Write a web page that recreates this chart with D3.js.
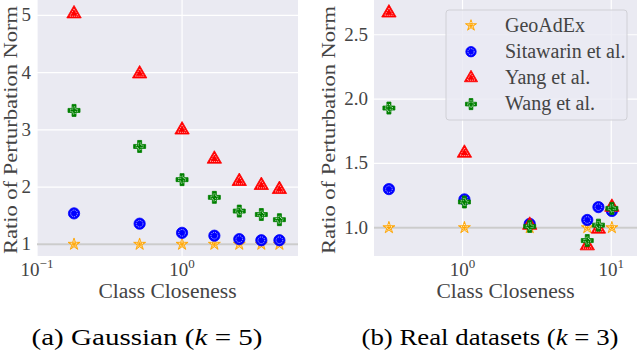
<!DOCTYPE html>
<html>
<head>
<meta charset="utf-8">
<script src="https://cdn.jsdelivr.net/npm/d3@7"></script>
<style>
  body { margin: 0; background: #fff; }
</style>
</head>
<body>
<div id="chart"></div>
<script>
// ---- data ----
var seriesNames = ['GeoAdEx', 'Sitawarin et al.', 'Yang et al.', 'Wang et al.'];
var seriesColors = ['#ffa500', '#0000ff', '#ff0000', '#008000'];
var seriesShapes = [d3.symbolStar, d3.symbolCircle, d3.symbolTriangle, d3.symbolCross];

// (a) Gaussian, k = 5
var gaussX = [0.18, 0.51, 1.0, 1.67, 2.48, 3.52, 4.69];
var gaussGeo = [1.0, 1.0, 1.0, 1.0, 1.0, 1.0, 1.0];
var gaussSita = [1.54, 1.36, 1.20, 1.15, 1.09, 1.07, 1.07];
var gaussYang = [5.03, 3.98, 3.0, 2.49, 2.10, 2.03, 1.96];
var gaussWang = [3.34, 2.71, 2.13, 1.82, 1.58, 1.52, 1.43];

// (b) Real datasets, k = 3
var realX = [0.32, 1.03, 2.83, 6.9, 8.2, 10.1];
var realGeo = [1.0, 1.0, 1.0, 1.0, 1.0, 1.0];
var realSita = [1.30, 1.22, 1.03, 1.06, 1.16, 1.13];
var realYang = [2.67, 1.58, 1.02, 0.86, 0.99, 1.16];
var realWang = [1.93, 1.20, 1.01, 0.90, 1.02, 1.15];

var gaussYTicks = [1, 2, 3, 4, 5];
var gaussXTicks = [0.1, 1];
var realYTicks = [1.0, 1.5, 2.0, 2.5];
var realXTicks = [1, 10];

var svg = d3.select('#chart').append('svg')
    .attr('width', 638)
    .attr('height', 352);

var symSizes = [45, 100, 90, 80];

function drawPanel(opt) {
    var x = d3.scaleLog().domain(opt.xDomain).range([opt.left, opt.right]);
    var y = d3.scaleLinear().domain(opt.yDomain).range([opt.bottom, opt.top]);
    var g = svg.append('g');

    g.append('rect')
        .attr('x', opt.left).attr('y', opt.top)
        .attr('width', opt.right - opt.left).attr('height', opt.bottom - opt.top)
        .attr('fill', '#eaeaf2');

    // grid
    g.selectAll('.hgrid').data(opt.yTicks).enter().append('line')
        .attr('x1', opt.left).attr('x2', opt.right)
        .attr('y1', d => y(d)).attr('y2', d => y(d))
        .attr('stroke', '#fff').attr('stroke-width', 1.2);
    g.selectAll('.vgrid').data(opt.xTicks).enter().append('line')
        .attr('x1', d => x(d)).attr('x2', d => x(d))
        .attr('y1', opt.top).attr('y2', opt.bottom)
        .attr('stroke', '#fff').attr('stroke-width', 1.2);

    // reference line at 1
    g.append('line')
        .attr('x1', opt.left).attr('x2', opt.right)
        .attr('y1', y(1)).attr('y2', y(1))
        .attr('stroke', '#cccccc').attr('stroke-width', 2);

    // y tick labels
    g.selectAll('.ytl').data(opt.yTicks).enter().append('text')
        .attr('x', opt.left - 6)
        .attr('y', d => y(d) + 6)
        .attr('text-anchor', 'end')
        .attr('font-size', 19)
        .attr('fill', '#444')
        .text(opt.yFormat);

    // x tick labels, 10^n
    var xt = g.selectAll('.xtl').data(opt.xTicks).enter().append('text')
        .attr('x', d => x(d))
        .attr('y', opt.bottom + 20)
        .attr('text-anchor', 'middle')
        .attr('font-size', 19)
        .attr('fill', '#444');
    xt.append('tspan').text('10');
    xt.append('tspan')
        .attr('dy', -8)
        .attr('font-size', 13)
        .text(d => { var e = Math.round(Math.log10(d)); return e < 0 ? '\u2212' + (-e) : e; });

    // axis labels
    g.append('text')
        .attr('x', (opt.left + opt.right) / 2)
        .attr('y', 298)
        .attr('text-anchor', 'middle')
        .attr('font-size', 20)
        .attr('fill', '#444')
        .attr('textLength', 138).attr('lengthAdjust', 'spacingAndGlyphs')
        .text('Class Closeness');

    g.append('text')
        .attr('transform', 'translate(' + opt.ylabelX + ',' + 130 + ') rotate(-90)')
        .attr('text-anchor', 'middle')
        .attr('font-size', 19)
        .attr('fill', '#444')
        .attr('textLength', 248).attr('lengthAdjust', 'spacingAndGlyphs')
        .text('Ratio of Perturbation Norm');

    // caption
    var cap = g.append('text')
        .attr('x', opt.capX)
        .attr('y', 345)
        .attr('text-anchor', 'middle')
        .attr('font-size', 23)
        .attr('fill', '#000')
        .attr('textLength', opt.capLen).attr('lengthAdjust', 'spacingAndGlyphs');
    cap.append('tspan').text(opt.caption + ' (');
    cap.append('tspan').attr('font-style', 'italic').text('k');
    cap.append('tspan').text(' = ' + opt.k + ')');

    // markers
    opt.series.forEach(function (vals, si) {
        var pts = vals.map((v, i) => ({ x: opt.xs[i], y: v }));
        drawMarkers(g.append('g'), pts, si, x, y);
    });
}

function drawMarkers(g, pts, si, x, y) {
    var outer = d3.symbol().type(seriesShapes[si]).size(symSizes[si]);
    var inner = d3.symbol().type(seriesShapes[si]).size(symSizes[si] * 0.35);
    var m = g.selectAll('g').data(pts).enter().append('g')
        .attr('transform', d => 'translate(' + x(d.x) + ',' + y(d.y) + ')');
    m.append('path').attr('d', outer)
        .attr('fill', seriesColors[si])
        .attr('stroke', seriesColors[si]).attr('stroke-width', 0.8);
    m.append('path').attr('d', inner)
        .attr('fill', 'none')
        .attr('stroke', '#fff').attr('stroke-width', 0.7)
        .attr('stroke-dasharray', '1,1');
}

drawPanel({
    left: 37, right: 298, top: 0, bottom: 256,
    xDomain: [0.1, 6.3], yDomain: [0.795, 5.27],
    xTicks: gaussXTicks, yTicks: gaussYTicks,
    yFormat: d => d3.format('d')(d),
    xs: gaussX,
    series: [gaussGeo, gaussSita, gaussYang, gaussWang],
    ylabelX: 17, capX: 147, capLen: 231, caption: '(a) Gaussian', k: 5
});

drawPanel({
    left: 374, right: 637, top: 0, bottom: 256,
    xDomain: [0.254, 14.9], yDomain: [0.78, 2.77],
    xTicks: realXTicks, yTicks: realYTicks,
    yFormat: d => d3.format('.1f')(d),
    xs: realX,
    series: [realGeo, realSita, realYang, realWang],
    ylabelX: 335, capX: 490, capLen: 257, caption: '(b) Real datasets', k: 3
});

// legend
var legend = svg.append('g');
legend.append('rect')
    .attr('x', 446).attr('y', 10)
    .attr('width', 181).attr('height', 110)
    .attr('rx', 3)
    .attr('fill', '#eaeaf2').attr('fill-opacity', 0.8)
    .attr('stroke', '#d0d0d6').attr('stroke-width', 1);
seriesNames.forEach(function (name, i) {
    var ly = 25.5 + i * 26.2;
    var lg = legend.append('g').attr('transform', 'translate(471,' + ly + ')');
    lg.append('path')
        .attr('d', d3.symbol().type(seriesShapes[i]).size(symSizes[i] * 0.85))
        .attr('fill', seriesColors[i]).attr('stroke', seriesColors[i]).attr('stroke-width', 0.8);
    lg.append('path')
        .attr('d', d3.symbol().type(seriesShapes[i]).size(symSizes[i] * 0.3))
        .attr('fill', 'none').attr('stroke', '#fff').attr('stroke-width', 0.7)
        .attr('stroke-dasharray', '1,1');
    legend.append('text')
        .attr('x', 505).attr('y', ly + 6)
        .attr('font-size', 20)
        .attr('fill', '#444')
        .text(name);
});

svg.selectAll('text').style('font-family', "'Liberation Serif'");
</script>
</body>
</html>
